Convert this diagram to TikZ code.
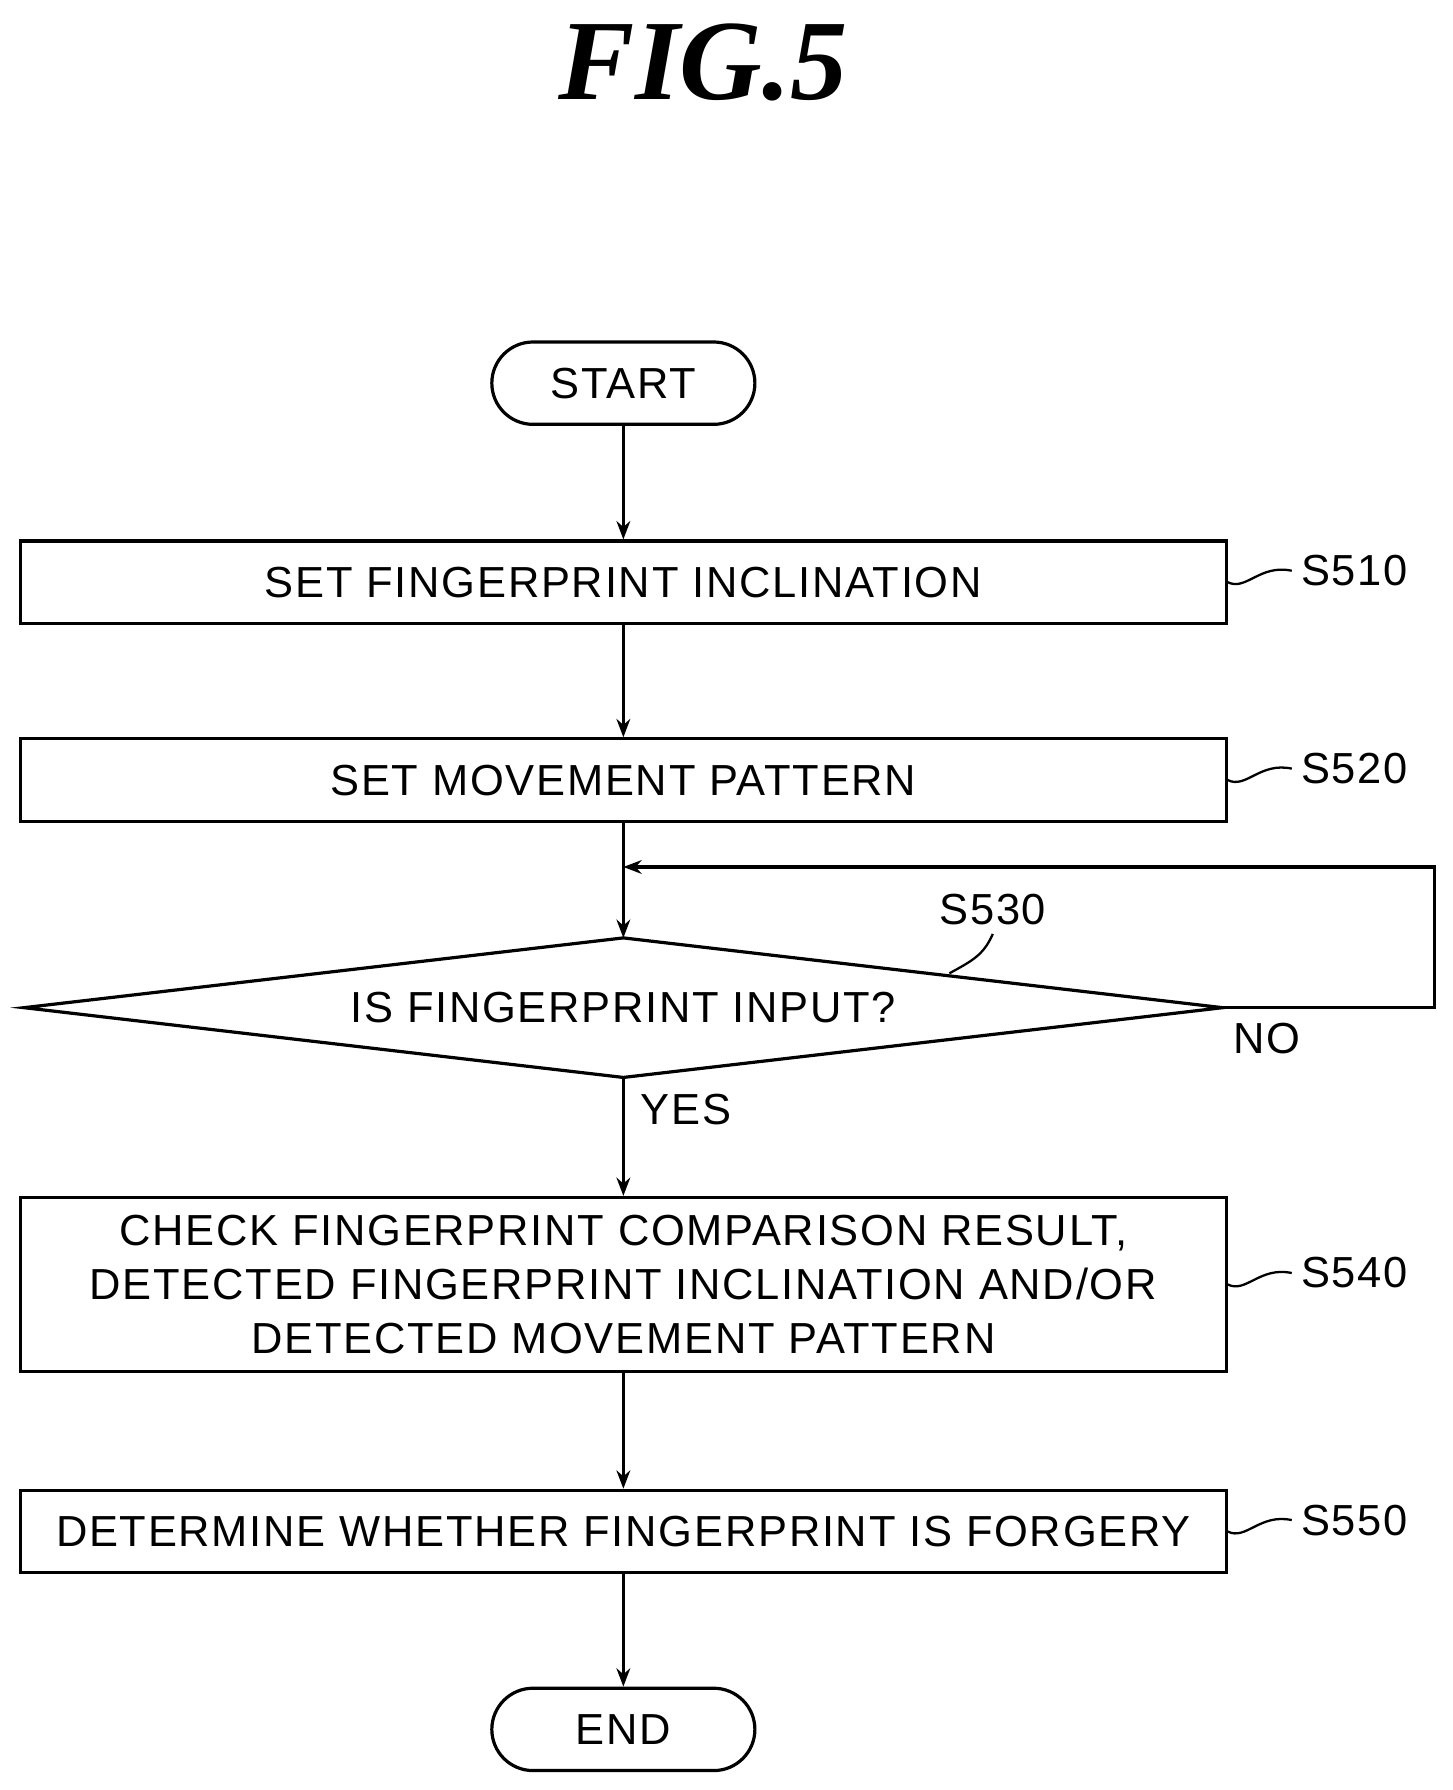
\documentclass[tikz,border=0pt]{standalone}
\usepackage{fontspec}
\setmainfont{Liberation Sans}[LetterSpace=4]
\newfontfamily\figfont{Liberation Serif}
\usetikzlibrary{shapes.geometric,arrows.meta,positioning}

\tikzset{every picture/.style={line width=1.4pt}}
\tikzset{
  stepbox/.style={draw, minimum width=527pt, minimum height=36pt, inner sep=0pt, align=center,
    font=\fontsize{19}{23}\selectfont},
  termbox/.style={draw, rounded corners=18pt, minimum width=115pt, minimum height=36pt,
    font=\fontsize{19}{23}\selectfont},
  steplabel/.style={font=\fontsize{19}{23}\selectfont, anchor=west},
  flow/.style={-{Stealth[length=8pt,width=6pt]}},
}

\begin{document}
\begin{tikzpicture}[x=0.5pt,y=-0.5pt]
\useasboundingbox (0,0) rectangle (1270,1565);

% title
\node[font=\figfont\bfseries\itshape\fontsize{50}{56}\selectfont] (title) at (615,55) {FIG.5};

% steps
\node[termbox] (start) at (545,335) {START};
\node[stepbox] (s510) at (545,509) {SET FINGERPRINT INCLINATION};
\node[stepbox] (s520) at (545,682) {SET MOVEMENT PATTERN};
\node[draw, diamond, aspect=8.6, minimum width=524pt, minimum height=61pt, inner sep=0pt, outer sep=0pt,
  font=\fontsize{19}{23}\selectfont] (s530) at (545,881) {};
\node[font=\fontsize{19}{23}\selectfont] at (545,881) {IS FINGERPRINT INPUT?};
\node[stepbox, minimum height=76pt, font=\fontsize{19}{23.5}\selectfont] (s540) at (545,1123)
  {CHECK FINGERPRINT COMPARISON RESULT,\\DETECTED FINGERPRINT INCLINATION AND/OR\\DETECTED MOVEMENT PATTERN};
\node[stepbox] (s550) at (545,1339) {DETERMINE WHETHER FINGERPRINT IS FORGERY};
\node[termbox] (end) at (545,1512) {END};

% connectors
\draw[flow] (start) -- (s510);
\draw[flow] (s510) -- (s520);
\draw[flow] (s520) -- (s530);
\draw[flow] (s530) -- (s540);
\draw[flow] (s540) -- (s550);
\draw[flow] (s550) -- (end);
\coordinate (loopa) at (1254,881);
\coordinate (loopb) at (1254,758);
\coordinate (loopc) at (545,758);
\draw[flow] (s530.east) -- (loopa) -- (loopb) -- (loopc);

\node[steplabel] (no) at (1070,908) {NO};
\node[steplabel] (yes) at (552,970) {YES};

% step labels
\foreach \n/\s in {510/s510,520/s520,540/s540,550/s550}{
  \node[steplabel] (l\n) at ([xshift=28pt,yshift=5pt]\s.east) {S\n};
  \draw[line width=1pt] (\s.east) .. controls ([xshift=8pt,yshift=-4pt]\s.east) and ([xshift=14pt,yshift=8pt]\s.east) .. (l\n.west);
}
\node[font=\fontsize{19}{23}\selectfont] (l530) at (868,795) {S530};
\coordinate (d530) at (830,851);
\draw[line width=1pt] (d530) .. controls (850,840) and (860,835) .. (l530.south);
\end{tikzpicture}
\end{document}
